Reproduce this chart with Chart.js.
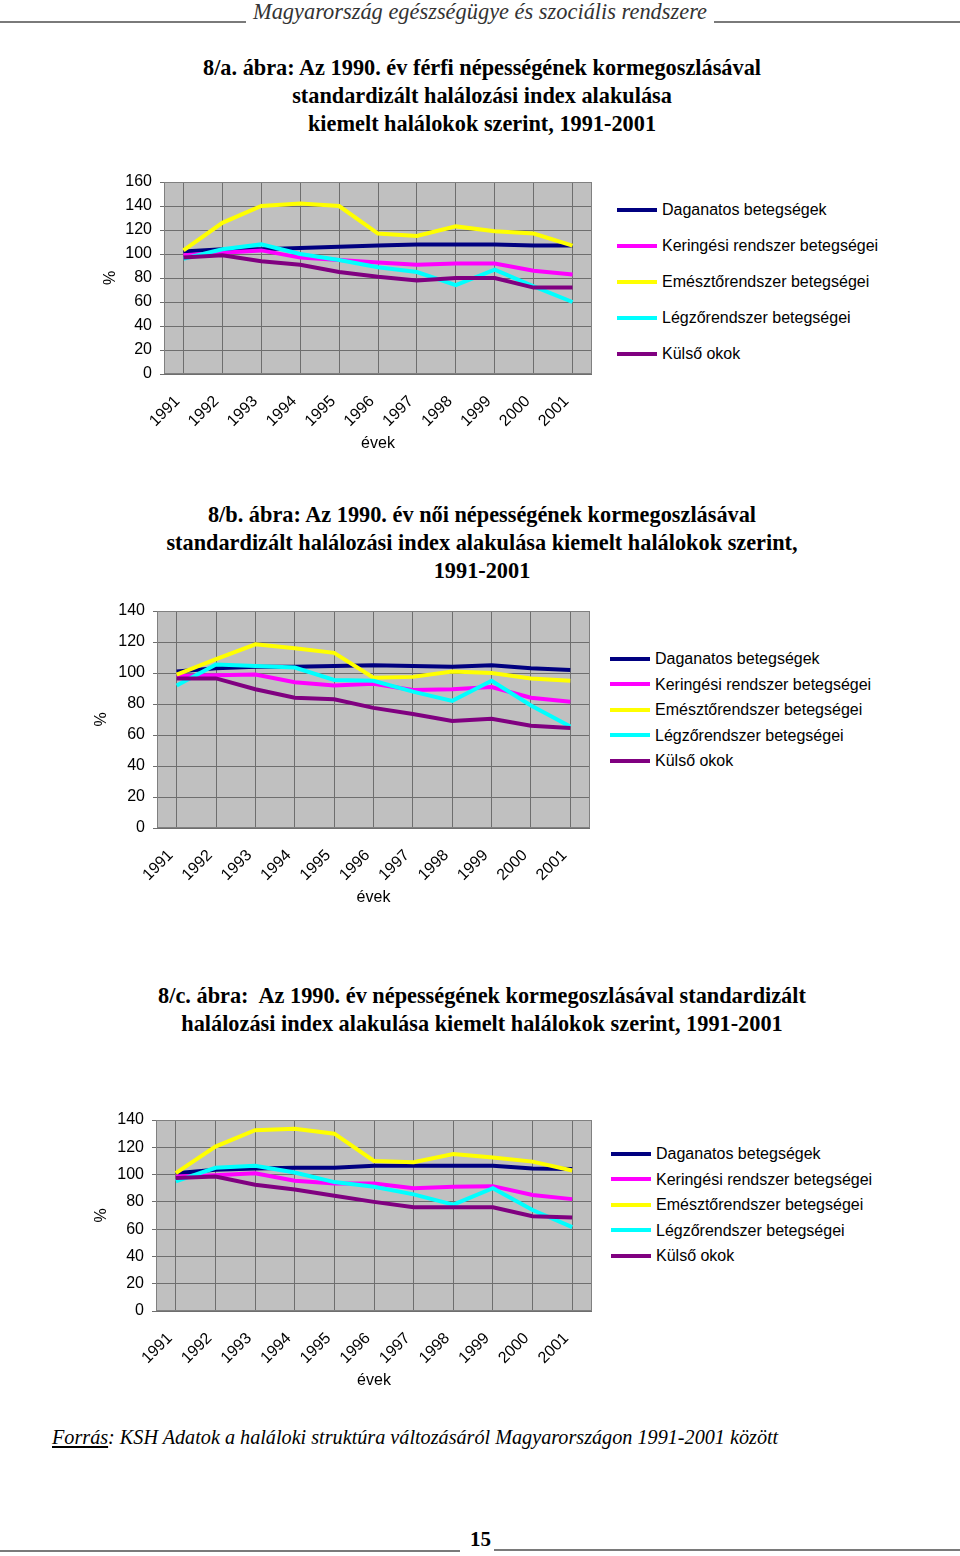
<!DOCTYPE html>
<html lang="hu">
<head>
<meta charset="utf-8">
<title>Standardizált halálozási index 1991-2001</title>
<script src="https://cdn.jsdelivr.net/npm/chart.js@4.4.0/dist/chart.umd.min.js"></script>
<style>
    body { margin: 0; background: #fff; }
    #page { position: relative; width: 960px; height: 1556px; overflow: hidden; font-family: "Liberation Sans", Arial, sans-serif; color: #000; }
    .rule { position: absolute; height: 2px; background: #7a7a7a; }
    .header { position: absolute; top: 0; left: 0; width: 960px; text-align: center; font: italic 22.4px/24px "Liberation Serif", serif; color: #333; }
    .title { position: absolute; left: 0; width: 964px; text-align: center; font: bold 22.3px/28px "Liberation Serif", serif; }
    .source { position: absolute; left: 52px; top: 1425px; font: italic 20.2px/24px "Liberation Serif", serif; }
    .source u { text-decoration: underline; }
    .pagenum { position: absolute; left: 470px; top: 1527px; font: bold 21px/24px "Liberation Serif", serif; }
    canvas { position: absolute; }
    .legend { position: absolute; font-size: 16px; line-height: 18px; }
    .legend .row { position: absolute; left: 0; white-space: nowrap; }
    .legend .swatch { display: inline-block; width: 40px; height: 4px; vertical-align: middle; margin-right: 5px; position: relative; top: -1px; }
</style>
</head>
<body>
<div id="page">
    <div class="rule" style="left:0; top:21px; width:246px;"></div>
    <div class="rule" style="left:714px; top:21px; width:246px;"></div>
    <div class="header">Magyarország egészségügye és szociális rendszere</div>

    <div class="title" style="top:54px;">8/a. ábra: Az 1990. év férfi népességének kormegoszlásával<br>standardizált halálozási index alakulása<br>kiemelt halálokok szerint, 1991-2001</div>
    <canvas id="chartFerfi" width="502" height="282" style="left:90px; top:172px;"></canvas>
    <div class="legend" id="legendFerfi" style="left:617px; top:201px;"></div>

    <div class="title" style="top:501px;">8/b. ábra: Az 1990. év női népességének kormegoszlásával<br>standardizált halálozási index alakulása kiemelt halálokok szerint,<br>1991-2001</div>
    <canvas id="chartNoi" width="508" height="307" style="left:82px; top:601px;"></canvas>
    <div class="legend" id="legendNoi" style="left:610px; top:650px;"></div>

    <div class="title" style="top:982px;">8/c. ábra:&nbsp; Az 1990. év népességének kormegoszlásával standardizált<br>halálozási index alakulása kiemelt halálokok szerint, 1991-2001</div>
    <canvas id="chartOssz" width="510" height="281" style="left:82px; top:1110px;"></canvas>
    <div class="legend" id="legendOssz" style="left:611px; top:1145px;"></div>

    <div class="source"><u>Forrás</u>: KSH Adatok a haláloki struktúra változásáról Magyarországon 1991-2001 között</div>
    <div class="rule" style="left:0; top:1550px; width:460px;"></div>
    <div class="pagenum">15</div>
    <div class="rule" style="left:494px; top:1549px; width:466px;"></div>
</div>

<script>
// categories
const years = ['1991', '1992', '1993', '1994', '1995', '1996', '1997', '1998', '1999', '2000', '2001'];
const seriesNames = ['Daganatos betegségek', 'Keringési rendszer betegségei', 'Emésztőrendszer betegségei', 'Légzőrendszer betegségei', 'Külső okok'];
const seriesColors = ['#000080', '#ff00ff', '#ffff00', '#00ffff', '#800080'];

// 8/a - férfi
const ferfiDaganatos = [102, 104, 104, 105, 106, 107, 108, 108, 108, 107, 107];
const ferfiKeringesi = [99, 101, 103, 97, 95, 93, 91, 92, 92, 86, 83];
const ferfiEmeszto = [103, 126, 140, 142, 140, 117, 115, 123, 119, 117, 107];
const ferfiLegzo = [96, 104, 108, 100, 95, 89, 85, 74, 87, 73, 60];
const ferfiKulso = [97, 99, 94, 91, 85, 81, 78, 80, 80, 72, 72];

// 8/b - női
const noiDaganatos = [101, 103, 104, 104, 104.5, 105, 104.5, 104, 105, 103, 102];
const noiKeringesi = [98, 98.5, 99, 94, 92, 93, 89, 89.5, 91, 84, 81.5];
const noiEmeszto = [99, 109, 118.5, 116, 113, 97, 97.5, 101, 100, 96.5, 95];
const noiLegzo = [92, 105.5, 104.5, 103.5, 95.5, 95, 88, 82, 95, 79, 65.5];
const noiKulso = [96.5, 96.5, 89.5, 84, 83, 77.5, 73.5, 69, 70.5, 66, 64.5];

// 8/c - összesen
const osszDaganatos = [101, 103.5, 104.5, 105, 105, 106.5, 106.5, 106.5, 106.5, 104.5, 104];
const osszKeringesi = [98.5, 99.5, 101, 95.5, 93.5, 93.5, 90, 91, 91.5, 85, 82];
const osszEmeszto = [101, 120.5, 132.5, 133.5, 130, 110, 109, 115, 112.5, 109.5, 103];
const osszLegzo = [95, 105, 106.5, 101.5, 94.5, 91, 85.5, 78, 90, 74, 61.5];
const osszKulso = [97.5, 98.5, 92.5, 89, 84.5, 80, 76, 76, 76, 69.5, 68.5];

const gridColor = '#6e6e6e';
const axisFont = { family: 'Liberation Sans', size: 16 };

// gray plot background with border, like the Excel original
const plotBackground = {
    id: 'plotBackground',
    beforeDraw(chart) {
        const { ctx, chartArea: a } = chart;
        ctx.save();
        ctx.fillStyle = '#c0c0c0';
        ctx.fillRect(a.left, a.top, a.right - a.left, a.bottom - a.top);
        ctx.restore();
    },
    beforeDatasetsDraw(chart) {
        const { ctx, chartArea: a } = chart;
        ctx.save();
        ctx.strokeStyle = '#808080';
        ctx.lineWidth = 1;
        ctx.strokeRect(a.left + 0.5, a.top + 0.5, a.right - a.left - 1, a.bottom - a.top - 1);
        ctx.restore();
    }
};

// keep the plot area where we put it: no extra room for label overhang
function clearPadding(scale) {
    scale.paddingTop = 0;
    scale.paddingBottom = 0;
    scale.paddingLeft = 0;
    scale.paddingRight = 0;
}

function makeChart(canvasId, legendId, series, yMax, opts) {
    const datasets = series.map((values, i) => ({
        label: seriesNames[i],
        data: values,
        borderColor: seriesColors[i],
        backgroundColor: seriesColors[i],
        borderWidth: 4,
        pointRadius: 0,
        tension: 0,
        fill: false,
        order: series.length - i // later series on top
    }));

    new Chart(document.getElementById(canvasId), {
        type: 'line',
        data: { labels: years, datasets: datasets },
        plugins: [plotBackground],
        options: {
            responsive: false,
            animation: false,
            layout: { padding: { top: 10, left: 0, right: 0, bottom: 0 } },
            plugins: { legend: { display: false }, tooltip: { enabled: false } },
            scales: {
                x: {
                    offset: true,
                    grid: { offset: false, color: gridColor, drawTicks: false },
                    border: { display: false },
                    ticks: {
                        color: '#000', font: axisFont,
                        minRotation: 45, maxRotation: 45, autoSkip: false,
                        padding: opts.xPad, labelOffset: -6
                    },
                    title: {
                        display: true, text: 'évek', color: '#000', font: axisFont,
                        padding: { top: 0, bottom: 1 }
                    },
                    afterFit(scale) { scale.height = 80; clearPadding(scale); }
                },
                y: {
                    min: 0, max: yMax,
                    grid: { color: gridColor, tickLength: 4 },
                    border: { display: false },
                    ticks: { stepSize: 20, color: '#000', padding: 8, font: axisFont },
                    title: {
                        display: true, text: '%', color: '#000', font: axisFont,
                        padding: { top: opts.titlePad, bottom: 0 }
                    },
                    afterFit(scale) { scale.width = opts.yWidth; clearPadding(scale); }
                }
            }
        }
    });

    // legend beside the plot
    const legend = document.getElementById(legendId);
    seriesNames.forEach((name, i) => {
        const row = document.createElement('div');
        row.className = 'row';
        row.style.top = (i * opts.legendStep) + 'px';
        row.innerHTML = '<span class="swatch" style="background:' + seriesColors[i] + '"></span>' + name;
        legend.appendChild(row);
    });
}

document.addEventListener('DOMContentLoaded', function() {
    makeChart('chartFerfi', 'legendFerfi',
        [ferfiDaganatos, ferfiKeringesi, ferfiEmeszto, ferfiLegzo, ferfiKulso], 160,
        { yWidth: 74, titlePad: 11, xPad: 18, legendStep: 36 });
    makeChart('chartNoi', 'legendNoi',
        [noiDaganatos, noiKeringesi, noiEmeszto, noiLegzo, noiKulso], 140,
        { yWidth: 75, titlePad: 10, xPad: 18, legendStep: 25.5 });
    makeChart('chartOssz', 'legendOssz',
        [osszDaganatos, osszKeringesi, osszEmeszto, osszLegzo, osszKulso], 140,
        { yWidth: 74, titlePad: 10, xPad: 18, legendStep: 25.5 });
});
</script>
</body>
</html>
